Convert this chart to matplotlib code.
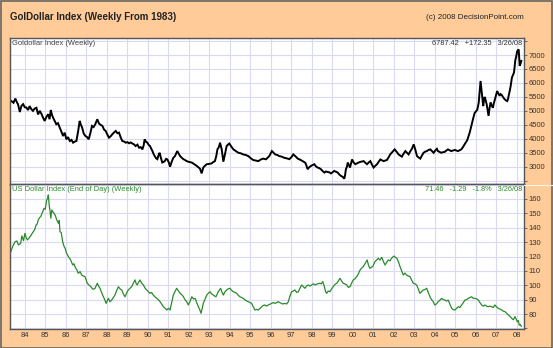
import matplotlib
matplotlib.use("Agg")
import matplotlib.pyplot as plt
from matplotlib.patches import Rectangle
from matplotlib.lines import Line2D


# GolDollar index, weekly (decimal year, index value)
GOLDOLLAR_YEARS = [
    1983.35, 1983.45, 1983.54, 1983.62, 1983.67, 1983.76, 1983.84, 1983.92,
    1984.00, 1984.08, 1984.16, 1984.24, 1984.32, 1984.40, 1984.48, 1984.57,
    1984.65, 1984.73, 1984.81, 1984.89, 1984.97, 1985.06, 1985.14, 1985.21,
    1985.27, 1985.33, 1985.38, 1985.46, 1985.54, 1985.62, 1985.71, 1985.79,
    1985.87, 1985.95, 1986.03, 1986.11, 1986.20, 1986.28, 1986.36, 1986.44,
    1986.52, 1986.60, 1986.68, 1986.74, 1986.80, 1986.88, 1986.96, 1987.04,
    1987.12, 1987.20, 1987.28, 1987.36, 1987.44, 1987.54, 1987.62, 1987.70,
    1987.79, 1987.87, 1987.95, 1988.03, 1988.11, 1988.19, 1988.27, 1988.36,
    1988.44, 1988.52, 1988.60, 1988.68, 1988.76, 1988.85, 1988.93, 1989.01,
    1989.09, 1989.17, 1989.25, 1989.33, 1989.41, 1989.50, 1989.58, 1989.66,
    1989.74, 1989.80, 1989.85, 1989.91, 1989.98, 1990.04, 1990.11, 1990.17,
    1990.23, 1990.29, 1990.34, 1990.41, 1990.47, 1990.53, 1990.58, 1990.65,
    1990.71, 1990.77, 1990.83, 1990.90, 1990.96, 1991.03, 1991.09, 1991.17,
    1991.25, 1991.33, 1991.44, 1991.51, 1991.58, 1991.66, 1991.74, 1991.82,
    1991.90, 1992.02, 1992.15, 1992.27, 1992.39, 1992.47, 1992.55, 1992.63,
    1992.71, 1992.80, 1992.88, 1993.00, 1993.12, 1993.20, 1993.28, 1993.35,
    1993.40, 1993.47, 1993.53, 1993.61, 1993.69, 1993.77, 1993.85, 1993.93,
    1993.98, 1994.08, 1994.18, 1994.30, 1994.42, 1994.54, 1994.66, 1994.78,
    1994.91, 1995.03, 1995.15, 1995.28, 1995.40, 1995.52, 1995.64, 1995.77,
    1995.85, 1995.93, 1996.06, 1996.14, 1996.22, 1996.32, 1996.42, 1996.54,
    1996.66, 1996.78, 1996.91, 1997.02, 1997.10, 1997.20, 1997.32, 1997.44,
    1997.56, 1997.69, 1997.74, 1997.80, 1997.88, 1997.97, 1998.05, 1998.13,
    1998.21, 1998.29, 1998.37, 1998.45, 1998.53, 1998.62, 1998.70, 1998.78,
    1998.86, 1998.94, 1999.02, 1999.10, 1999.18, 1999.27, 1999.35, 1999.43,
    1999.51, 1999.59, 1999.63, 1999.67, 1999.72, 1999.76, 1999.82, 1999.87,
    1999.97, 2000.05, 2000.13, 2000.21, 2000.29, 2000.41, 2000.54, 2000.62,
    2000.70, 2000.78, 2000.86, 2000.94, 2001.02, 2001.10, 2001.19, 2001.27,
    2001.35, 2001.43, 2001.51, 2001.59, 2001.67, 2001.75, 2001.83, 2001.94,
    2002.05, 2002.14, 2002.24, 2002.32, 2002.40, 2002.48, 2002.57, 2002.65,
    2002.73, 2002.81, 2002.89, 2002.98, 2003.06, 2003.14, 2003.22, 2003.30,
    2003.38, 2003.46, 2003.54, 2003.62, 2003.70, 2003.79, 2003.87, 2003.95,
    2004.03, 2004.11, 2004.16, 2004.24, 2004.32, 2004.41, 2004.49, 2004.57,
    2004.65, 2004.73, 2004.81, 2004.90, 2004.98, 2005.06, 2005.14, 2005.22,
    2005.30, 2005.38, 2005.46, 2005.59, 2005.71, 2005.79, 2005.87, 2005.95,
    2006.08, 2006.15, 2006.20, 2006.24, 2006.28, 2006.31, 2006.37, 2006.40,
    2006.44, 2006.49, 2006.54, 2006.59, 2006.63, 2006.68, 2006.73, 2006.78,
    2006.84, 2006.90, 2006.96, 2007.01, 2007.05, 2007.11, 2007.17, 2007.22,
    2007.28, 2007.35, 2007.41, 2007.47, 2007.54, 2007.58, 2007.61, 2007.66,
    2007.71, 2007.74, 2007.77, 2007.82, 2007.87, 2007.90, 2007.93, 2007.98,
    2008.03, 2008.10, 2008.15, 2008.19, 2008.23,
]
GOLDOLLAR_VALUES = [
    5350, 5290, 5440, 5300, 5240, 4960, 5180, 5240,
    5130, 5120, 5030, 5170, 5060, 5000, 5080, 5110,
    4870, 5000, 4900, 4760, 4640, 4790, 4880, 4700,
    5030, 4850, 4760, 4640, 4520, 4560, 4400, 4250,
    4100, 4220, 3980, 4060, 3920, 3960, 3860, 3900,
    3920, 4250, 4640, 4500, 4400, 4180, 4100, 4060,
    3980, 4200, 4460, 4420, 4520, 4700, 4550, 4500,
    4460, 4330, 4280, 4150, 4040, 4090, 4160, 4230,
    4280, 4200, 4220, 4050, 3920, 3900, 3860, 3880,
    3840, 3870, 3830, 3800, 3740, 3790, 3680, 3700,
    3620, 3760, 3980, 3900, 3860, 3790, 3740, 3650,
    3560, 3450, 3380, 3300, 3270, 3420, 3500, 3300,
    3150, 3170, 3200, 3280, 3260, 3150, 3000, 3180,
    3320, 3380, 3560, 3470, 3380, 3320, 3270, 3240,
    3200, 3170, 3150, 3090, 3030, 2980, 2930, 2760,
    2970, 3040, 3090, 3100, 3120, 3170, 3200, 3400,
    3620, 3700, 3860, 3620, 3180, 3450, 3740, 3800,
    3830, 3720, 3620, 3560, 3500, 3480, 3440, 3420,
    3380, 3300, 3240, 3220, 3200, 3260, 3290, 3265,
    3320, 3380, 3560, 3500, 3440, 3420, 3380, 3360,
    3320, 3300, 3270, 3350, 3440, 3380, 3290, 3250,
    3200, 3140, 3050, 2910, 2980, 3030, 3060, 3090,
    3010, 2970, 2950, 2910, 2850, 2790, 2830, 2810,
    2800, 2760, 2800, 2850, 2820, 2790, 2720, 2670,
    2640, 2570, 2700, 2910, 3000, 3150, 3050, 2970,
    3260, 3150, 3090, 3120, 3150, 3180, 3200, 3140,
    3090, 3150, 3200, 3080, 2970, 3030, 3090, 3180,
    3260, 3230, 3200, 3220, 3240, 3330, 3440, 3530,
    3620, 3540, 3440, 3400, 3360, 3460, 3560, 3500,
    3440, 3550, 3640, 3800, 3600, 3380, 3330, 3290,
    3400, 3500, 3540, 3560, 3600, 3620, 3560, 3500,
    3580, 3640, 3560, 3530, 3500, 3520, 3530, 3580,
    3620, 3590, 3560, 3580, 3600, 3580, 3560, 3590,
    3620, 3700, 3800, 3950, 4220, 4460, 4700, 4920,
    5040, 5290, 5700, 6070, 5800, 5590, 5170, 5350,
    5500, 5380, 5230, 5000, 4820, 5100, 5300, 5200,
    5110, 5300, 5470, 5600, 5710, 5620, 5540, 5600,
    5560, 5480, 5420, 5380, 5350, 5420, 5540, 5700,
    5890, 6050, 6190, 6280, 6370, 6550, 6790, 6950,
    7140, 7200, 6610, 6690, 6787.42,
]

# US Dollar Index, end of day, weekly
USD_YEARS = [
    1983.32, 1983.42, 1983.53, 1983.62, 1983.69, 1983.80, 1983.86, 1983.94,
    1984.01, 1984.07, 1984.13, 1984.26, 1984.34, 1984.42, 1984.49, 1984.55,
    1984.60, 1984.66, 1984.72, 1984.78, 1984.86, 1984.94, 1985.00, 1985.07,
    1985.12, 1985.15, 1985.20, 1985.24, 1985.27, 1985.32, 1985.40, 1985.48,
    1985.56, 1985.64, 1985.68, 1985.72, 1985.78, 1985.85, 1985.91, 1985.97,
    1986.03, 1986.13, 1986.24, 1986.34, 1986.40, 1986.45, 1986.57, 1986.61,
    1986.70, 1986.78, 1986.86, 1986.94, 1987.05, 1987.13, 1987.22, 1987.33,
    1987.43, 1987.54, 1987.60, 1987.67, 1987.80, 1987.90, 1987.97, 1988.08,
    1988.16, 1988.24, 1988.32, 1988.40, 1988.49, 1988.57, 1988.65, 1988.73,
    1988.81, 1988.89, 1988.97, 1989.05, 1989.14, 1989.22, 1989.30, 1989.38,
    1989.44, 1989.49, 1989.55, 1989.62, 1989.70, 1989.79, 1989.87, 1989.95,
    1990.03, 1990.11, 1990.19, 1990.27, 1990.35, 1990.44, 1990.52, 1990.60,
    1990.68, 1990.76, 1990.85, 1990.93, 1991.01, 1991.09, 1991.17, 1991.25,
    1991.33, 1991.41, 1991.50, 1991.58, 1991.66, 1991.74, 1991.82, 1991.90,
    1991.98, 1992.07, 1992.15, 1992.23, 1992.31, 1992.39, 1992.47, 1992.54,
    1992.60, 1992.66, 1992.71, 1992.80, 1992.88, 1992.96, 1993.04, 1993.12,
    1993.20, 1993.27, 1993.33, 1993.44, 1993.56, 1993.63, 1993.69, 1993.77,
    1993.85, 1993.93, 1994.01, 1994.09, 1994.18, 1994.26, 1994.34, 1994.42,
    1994.50, 1994.58, 1994.66, 1994.78, 1994.91, 1994.99, 1995.07, 1995.15,
    1995.23, 1995.32, 1995.40, 1995.48, 1995.56, 1995.64, 1995.72, 1995.80,
    1995.88, 1995.96, 1996.05, 1996.13, 1996.21, 1996.29, 1996.37, 1996.45,
    1996.58, 1996.70, 1996.78, 1996.86, 1996.94, 1997.02, 1997.10, 1997.19,
    1997.27, 1997.35, 1997.43, 1997.51, 1997.59, 1997.67, 1997.75, 1997.83,
    1997.92, 1998.00, 1998.08, 1998.16, 1998.28, 1998.40, 1998.47, 1998.54,
    1998.62, 1998.68, 1998.73, 1998.81, 1998.89, 1998.97, 1999.05, 1999.13,
    1999.22, 1999.30, 1999.38, 1999.46, 1999.54, 1999.62, 1999.71, 1999.79,
    1999.87, 1999.95, 2000.03, 2000.11, 2000.20, 2000.28, 2000.36, 2000.44,
    2000.52, 2000.60, 2000.71, 2000.77, 2000.84, 2000.91, 2000.98, 2001.04,
    2001.09, 2001.17, 2001.25, 2001.33, 2001.42, 2001.50, 2001.58, 2001.66,
    2001.74, 2001.82, 2001.90, 2002.01, 2002.08, 2002.15, 2002.23, 2002.31,
    2002.39, 2002.47, 2002.55, 2002.63, 2002.71, 2002.80, 2002.88, 2002.96,
    2003.04, 2003.12, 2003.20, 2003.28, 2003.36, 2003.44, 2003.52, 2003.61,
    2003.69, 2003.77, 2003.85, 2003.93, 2004.01, 2004.09, 2004.17, 2004.25,
    2004.34, 2004.42, 2004.50, 2004.58, 2004.66, 2004.74, 2004.83, 2004.91,
    2004.99, 2005.07, 2005.15, 2005.23, 2005.32, 2005.40, 2005.48, 2005.56,
    2005.64, 2005.72, 2005.80, 2005.88, 2005.97, 2006.05, 2006.13, 2006.21,
    2006.29, 2006.37, 2006.45, 2006.53, 2006.61, 2006.69, 2006.78, 2006.86,
    2006.94, 2007.02, 2007.10, 2007.18, 2007.27, 2007.35, 2007.43, 2007.51,
    2007.59, 2007.67, 2007.76, 2007.84, 2007.92, 2007.98, 2008.03, 2008.08,
    2008.13, 2008.18, 2008.23,
]
USD_VALUES = [
    123.4, 127.3, 130.3, 130.8, 128.0, 129.2, 134.3, 131.0,
    136.1, 133.0, 131.5, 133.8, 135.5, 137.3, 138.9, 141.9,
    142.4, 145.4, 147.0, 147.7, 150.5, 153.5, 152.8, 159.3,
    160.5, 162.8, 154.7, 151.0, 146.6, 152.3, 150.5, 148.9,
    145.5, 143.1, 145.0, 137.3, 136.6, 130.3, 127.3, 125.7,
    122.6, 119.9, 117.6, 114.1, 115.0, 112.9, 109.9, 108.3,
    109.5, 107.1, 106.4, 106.0, 101.4, 100.2, 99.0, 97.2,
    97.9, 101.4, 99.5, 97.9, 93.2, 90.0, 87.4, 90.9,
    88.5, 89.7, 91.5, 93.2, 96.5, 99.0, 97.5, 96.7,
    94.0, 92.0, 94.5, 96.7, 98.0, 99.0, 101.5, 103.7,
    101.0, 100.2, 102.0, 103.7, 101.5, 100.2, 98.0, 96.7,
    95.5, 94.4, 95.0, 93.2, 92.0, 90.9, 90.0, 88.6,
    87.0, 85.1, 84.0, 82.8, 84.0, 82.8, 88.0, 93.2,
    95.5, 97.9, 96.0, 94.4, 93.5, 92.0, 90.0, 88.6,
    86.3, 89.0, 92.0, 90.5, 90.9, 88.0, 85.1, 83.0,
    80.5, 84.0, 87.4, 90.5, 93.2, 94.5, 95.5, 94.0,
    93.2, 92.5, 92.0, 95.5, 97.9, 95.0, 93.2, 95.5,
    96.7, 97.5, 97.9, 96.5, 95.5, 95.0, 94.4, 93.0,
    92.0, 91.5, 90.9, 89.5, 88.6, 88.0, 87.4, 85.0,
    82.8, 83.2, 82.8, 84.0, 85.1, 86.0, 86.3, 85.5,
    86.3, 86.8, 87.4, 88.0, 87.4, 88.0, 88.6, 87.9,
    87.0, 87.4, 87.0, 88.6, 92.5, 95.5, 96.0, 96.7,
    95.0, 95.5, 98.0, 100.2, 99.0, 97.9, 99.5, 100.2,
    99.5, 100.2, 101.0, 100.2, 101.0, 101.4, 101.0, 102.6,
    99.0, 95.5, 94.4, 96.0, 95.5, 97.5, 99.0, 100.5,
    101.4, 103.0, 104.8, 103.0, 101.4, 101.0, 100.2, 98.5,
    99.0, 101.5, 103.7, 104.5, 106.0, 108.0, 110.6, 112.0,
    113.0, 115.0, 117.6, 114.0, 111.8, 112.5, 113.0, 115.0,
    116.5, 117.5, 118.8, 117.5, 119.4, 116.5, 114.1, 116.0,
    117.6, 117.0, 118.8, 120.3, 119.5, 118.8, 116.5, 113.0,
    110.0, 107.1, 108.5, 107.1, 106.5, 106.0, 103.5, 101.4,
    101.0, 100.2, 97.5, 94.4, 95.5, 96.7, 97.0, 97.9,
    95.0, 92.0, 90.0, 88.6, 86.3, 87.0, 88.6, 89.5,
    90.9, 90.0, 89.7, 89.0, 89.7, 87.0, 84.0, 83.0,
    82.8, 84.0, 85.1, 84.5, 86.3, 88.0, 89.7, 90.0,
    90.9, 91.5, 92.0, 91.0, 90.9, 90.5, 89.7, 88.0,
    86.3, 85.5, 86.3, 85.5, 85.1, 85.5, 85.1, 84.5,
    86.3, 85.0, 84.0, 83.5, 82.8, 82.0, 81.7, 80.5,
    79.4, 78.5, 77.0, 76.0, 78.2, 76.5, 74.6, 75.5,
    72.3, 72.8, 71.46,
]

YEAR_TICKS = list(range(1984, 2009))
YEAR_LABELS = ["%02d" % (y % 100) for y in YEAR_TICKS]
GOLDOLLAR_GRID = list(range(2500, 8000, 500))
GOLDOLLAR_LABELED = list(range(3000, 7500, 500))
USD_GRID = list(range(70, 180, 10))
USD_LABELED = list(range(80, 170, 10))

W, H = 553, 348
BG = "#FFCC99"
GRID = "#dadaf6"
FRAME = "#555555"
GREEN = "#2b8a2b"
FONT = ["Liberation Sans", "DejaVu Sans"]

plt.rcParams["font.family"] = FONT


def fig_xy(x, y):
    # pixel position (from top-left) to figure fraction
    return x / W, 1 - y / H


def style_panel(ax, grid_vals, labeled_vals, ylim):
    ax.set_facecolor("white")
    ax.set_xlim(1983.28, 2008.36)
    ax.set_ylim(*ylim)
    ax.set_xticks(YEAR_TICKS)
    ax.set_yticks(grid_vals)
    ax.set_yticklabels([str(v) if v in labeled_vals else "" for v in grid_vals])
    ax.yaxis.tick_right()
    ax.grid(True, color=GRID, linewidth=0.8)
    ax.set_axisbelow(True)
    ax.tick_params(axis="y", length=2, width=0.6, color=FRAME, pad=1.5,
                   labelsize=5.5, labelcolor="#333333")
    for s in ax.spines.values():
        s.set_color(FRAME)
        s.set_linewidth(1.0)


def main():
    fig = plt.figure(figsize=(W / 100, H / 100), dpi=100, facecolor=BG)

    left, width = 10 / W, 514 / W
    ax_top = fig.add_axes([left, 1 - 184 / H, width, 146 / H])
    ax_bot = fig.add_axes([left, 1 - 329 / H, width, 145 / H])

    style_panel(ax_top, GOLDOLLAR_GRID, GOLDOLLAR_LABELED, (2381, 7609))
    style_panel(ax_bot, USD_GRID, USD_LABELED, (69.6, 170.4))

    ax_top.tick_params(axis="x", length=0, labelbottom=False)
    ax_bot.set_xticklabels(YEAR_LABELS)
    ax_bot.tick_params(axis="x", length=0, pad=2.5, labelsize=5.5,
                       labelcolor="#333333")

    ax_top.plot(GOLDOLLAR_YEARS, GOLDOLLAR_VALUES, color="black",
                linewidth=1.4, solid_joinstyle="miter")
    ax_bot.plot(USD_YEARS, USD_VALUES, color=GREEN, linewidth=0.9)

    # headline and credit
    fig.text(*fig_xy(10, 17.5), "GolDollar Index (Weekly From 1983)",
             fontsize=7, fontweight="bold", color="#222222",
             ha="left", va="center")
    fig.text(*fig_xy(524, 17.5), "(c) 2008 DecisionPoint.com",
             fontsize=5.8, color="#222222", ha="right", va="center")

    # panel captions
    fig.text(*fig_xy(12, 43.5), "Goldollar Index (Weekly)",
             fontsize=5.4, color="#444444", ha="left", va="center", zorder=5)
    fig.text(*fig_xy(522.5, 43.5), "6787.42   +172.35   3/26/08",
             fontsize=5.3, color="#333333", ha="right", va="center", zorder=5)
    fig.text(*fig_xy(12, 189.3), "US Dollar Index (End of Day) (Weekly)",
             fontsize=5.4, color=GREEN, ha="left", va="center", zorder=5)
    fig.text(*fig_xy(522.5, 189.3), "71.46   -1.29   -1.8%   3/26/08",
             fontsize=5.3, color=GREEN, ha="right", va="center", zorder=5)

    # light rule between panels running to the right edge
    fig.add_artist(Line2D([524 / W, 1], [1 - 184.5 / H] * 2,
                          transform=fig.transFigure, color="#fff3e6",
                          linewidth=0.8))

    fig.add_artist(Rectangle((0.001, 0.001), 0.997, 0.997,
                             transform=fig.transFigure, fill=False,
                             edgecolor="#666666", linewidth=1.2))

    fig.savefig("out.png", dpi=100, facecolor=BG)
    plt.close(fig)


if __name__ == "__main__":
    main()
